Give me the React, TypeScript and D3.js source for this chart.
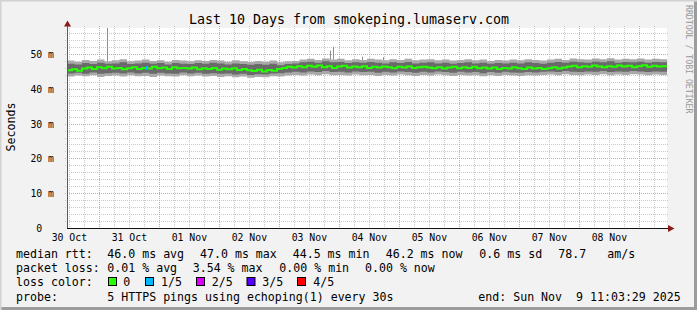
import React from "react";
import * as d3 from "d3";

const W = 697;
const H = 310;

const title = "Last 10 Days from smokeping.lumaserv.com";
const startTime = Date.UTC(2025, 9, 30, 11, 3, 29);
const endTime = Date.UTC(2025, 10, 9, 11, 3, 29);
const yMax = 57.47;
const yTicks = [0, 10, 20, 30, 40, 50];
const yTickLabels = ["0\u00a0\u00a0", "10 m", "20 m", "30 m", "40 m", "50 m"];

// median rtt (ms), one value every 2 hours from start
const medianMs = [
  45.3, 45.6, 45.2, 45.8, 46.1, 45.7, 46.2, 45.9, 46.3, 45.8, 46.0, 45.6,
  45.9, 46.2, 45.7, 46.0, 45.8, 46.3, 45.9, 46.1, 45.7, 46.2, 45.9, 46.0,
  45.8, 46.1, 45.6, 45.9, 45.7, 46.0, 45.5, 45.8, 45.6, 45.9, 45.4, 45.7,
  45.3, 45.1, 45.5, 45.0, 45.4, 45.2, 45.7, 46.0, 46.3, 46.1, 46.5, 46.2,
  46.6, 46.3, 46.7, 46.2, 46.5, 46.0, 46.4, 46.6, 46.1, 46.4, 46.2, 46.5,
  46.0, 46.3, 46.1, 46.4, 46.2, 45.9, 46.3, 46.1, 46.4, 46.0, 46.2, 46.3,
  46.1, 45.9, 46.2, 45.8, 46.1, 46.3, 45.9, 46.2, 46.0, 46.3, 45.9, 46.1,
  45.8, 46.1, 45.7, 46.0, 45.8, 46.2, 45.9, 45.7, 46.1, 45.8, 46.0, 45.7,
  45.9, 46.2, 45.8, 46.1, 46.4, 46.6, 46.2, 46.5, 46.3, 46.7, 46.4, 46.2,
  46.5, 46.3, 46.7, 46.4, 46.6, 46.2, 46.5, 46.8, 46.3, 46.6, 46.4, 46.5,
];

// smoke bands (ms), one value every 3 hours from start
const lightHi = [
  48.1, 47.8, 48.3, 48.0, 48.4, 47.9, 48.2, 48.5, 47.9, 48.1, 48.4, 48.0, 48.2, 47.8, 48.3, 48.1,
  47.9, 48.2, 48.0, 48.3, 48.1, 47.8, 48.2, 47.9, 47.7, 48.0, 47.8, 48.1, 47.6, 47.9, 48.0, 48.4,
  48.6, 48.3, 48.7, 48.4, 48.6, 48.2, 48.5, 48.3, 48.6, 48.4, 48.2, 48.5, 48.3, 48.6, 48.2, 48.4,
  48.5, 48.2, 48.4, 48.1, 48.3, 48.5, 48.2, 48.4, 48.0, 48.3, 48.1, 48.4, 48.2, 48.5, 48.3, 48.1,
  48.4, 48.6, 48.3, 48.7, 48.5, 48.4, 48.7, 48.5, 48.8, 48.4, 48.6, 48.5, 48.7, 48.4, 48.6, 48.5,
];
const darkHi = [
  47.2, 47.0, 47.4, 47.1, 47.5, 47.2, 47.3, 47.6, 47.1, 47.3, 47.5, 47.2, 47.4, 47.0, 47.4, 47.2,
  47.1, 47.4, 47.2, 47.5, 47.3, 47.0, 47.3, 47.1, 46.9, 47.1, 46.9, 47.2, 46.8, 47.1, 47.3, 47.6,
  47.8, 47.5, 47.9, 47.6, 47.7, 47.4, 47.6, 47.5, 47.7, 47.5, 47.3, 47.6, 47.4, 47.7, 47.3, 47.5,
  47.6, 47.3, 47.5, 47.2, 47.4, 47.6, 47.3, 47.5, 47.2, 47.4, 47.3, 47.5, 47.3, 47.6, 47.4, 47.2,
  47.5, 47.7, 47.5, 47.8, 47.6, 47.5, 47.8, 47.6, 47.9, 47.5, 47.7, 47.6, 47.8, 47.5, 47.7, 47.6,
];
const darkLo = [
  44.4, 44.6, 44.3, 44.7, 44.3, 44.5, 44.6, 44.4, 44.7, 44.4, 44.6, 44.3, 44.6, 44.4, 44.3, 44.7,
  44.4, 44.6, 44.3, 44.5, 44.3, 44.4, 44.1, 44.3, 44.0, 44.2, 44.1, 44.4, 44.5, 44.7, 44.9, 44.7,
  45.0, 44.8, 45.1, 44.8, 44.9, 44.7, 45.0, 44.8, 44.9, 44.6, 44.9, 44.7, 45.0, 44.8, 44.6, 44.9,
  44.7, 45.0, 44.8, 44.6, 44.9, 44.7, 44.8, 44.5, 44.8, 44.6, 44.9, 44.7, 44.6, 44.8, 44.7, 44.9,
  45.0, 44.8, 45.1, 44.9, 44.8, 45.0, 44.9, 45.1, 44.8, 45.0, 44.9, 45.1, 45.0, 44.8, 45.0, 44.9,
];
const lightLo = [
  43.5, 43.8, 43.6, 43.9, 43.4, 43.7, 43.8, 43.5, 43.9, 43.6, 43.7, 43.4, 43.8, 43.6, 43.5, 43.9,
  43.6, 43.8, 43.5, 43.7, 43.4, 43.6, 43.3, 43.5, 43.2, 43.4, 43.3, 43.6, 43.5, 43.8, 44.0, 43.8,
  44.1, 43.9, 44.2, 43.9, 44.0, 43.8, 44.1, 43.9, 44.0, 43.7, 44.0, 43.8, 44.1, 43.9, 43.7, 44.0,
  43.8, 44.1, 43.9, 43.7, 44.0, 43.8, 43.9, 43.6, 43.9, 43.7, 44.0, 43.8, 43.7, 43.9, 43.8, 44.0,
  44.1, 43.9, 44.2, 44.0, 43.9, 44.1, 44.0, 44.2, 43.9, 44.1, 44.0, 44.2, 44.1, 43.9, 44.1, 44.0,
];

// isolated max-ping spikes
const spikeTimes = [
  Date.UTC(2025, 9, 31, 3, 3),
  Date.UTC(2025, 10, 3, 20, 15),
  Date.UTC(2025, 10, 3, 21, 27),
  Date.UTC(2025, 10, 4, 9, 3),
  Date.UTC(2025, 10, 4, 17, 27),
];
const spikeValues = [57.5, 51.0, 52.1, 49.2, 49.1];

// packet loss events on the median line
const lossTimes = [Date.UTC(2025, 9, 31, 18, 39)];
const lossLevels = [1];

const lossLabels = ["0", "1/5", "2/5", "3/5", "4/5"];
const lossColors = ["#26ff00", "#00b8ff", "#dd00ff", "#5500ff", "#ff0000"];

const legendRtt = ["46.0 ms avg", "47.0 ms max", "44.5 ms min", "46.2 ms now", "0.6 ms sd", "78.7", "am/s"];
const legendLoss = ["0.01 % avg", "3.54 % max", "0.00 % min", "0.00 % now"];
const probeText = "5 HTTPS pings using echoping(1) every 30s";
const endText = "end: Sun Nov\u00a0\u00a09 11:03:29 2025";

const FONT = "'DejaVu Sans Mono', monospace";

export default function App() {
  const left = 67, right = 667, top = 28, bottom = 228;
  const x = d3.scaleUtc().domain([startTime, endTime]).range([left, right]);
  const y = d3.scaleLinear().domain([0, yMax]).range([bottom, top]);

  const H2 = 2 * 3600 * 1000;
  const H3 = 3 * 3600 * 1000;

  const withEnd = (arr: number[], step: number) => {
    const pts = arr.map((v, i) => ({ t: startTime + i * step, v }));
    pts.push({ t: endTime, v: arr[arr.length - 1] });
    return pts;
  };

  const bandPts = (hi: number[], lo: number[]) => {
    const pts = hi.map((h, i) => ({ t: startTime + i * H3, h, l: lo[i] }));
    pts.push({ t: endTime, h: hi[hi.length - 1], l: lo[lo.length - 1] });
    return pts;
  };

  const area = d3
    .area<{ t: number; h: number; l: number }>()
    .x((d) => x(d.t))
    .y0((d) => y(d.l))
    .y1((d) => y(d.h))
    .curve(d3.curveStepAfter);

  const medLine = d3
    .line<{ t: number; v: number }>()
    .x((d) => x(d.t))
    .y((d) => y(d.v))
    .curve(d3.curveStepAfter);

  const minorX = d3.utcHour.every(6)!.range(new Date(startTime), new Date(endTime));
  const majorX = d3.utcDay.range(new Date(startTime), new Date(endTime));
  const labelX = d3.utcDay
    .range(new Date(d3.utcDay.floor(new Date(startTime))), new Date(endTime))
    .map((d) => new Date(d.getTime() + 12 * 3600 * 1000))
    .filter((d) => d.getTime() >= startTime && d.getTime() <= endTime);
  const fmt = d3.utcFormat("%d %b");

  const minorY = d3.range(0, yMax, 2).filter((v) => v % 10 !== 0);

  const legendRowY = [258, 272, 286, 300.5];
  const rttX = [107.3, 200, 292.7, 385.7, 479.3, 558.3, 607.3];
  const lossX = [107.3, 192.7, 279.3, 365];
  const boxX = [108.5, 145.5, 196.5, 247, 297.5];
  const boxLabelX = [123.3, 161, 211.7, 262.3, 313.3];

  const medianPts = withEnd(medianMs, H2);
  const medianAt = (t: number) => medianMs[Math.min(medianMs.length - 1, Math.floor((t - startTime) / H2))];

  return (
    <svg
      width={W}
      height={H}
      style={{ position: "absolute", left: 0, top: 0, fontFamily: FONT }}
    >
      <rect x={0} y={0} width={W} height={H} fill="#f2f2f2" />
      <path d={`M0,${H} V0 H${W}`} stroke="#d2d2d2" strokeWidth={3} fill="none" />
      <path d={`M1.5,${H - 1.5} H${W - 1.5} V1.5`} stroke="#9c9c9c" strokeWidth={3} fill="none" />

      <text x={W / 2 + 0.5} y={24} textAnchor="middle" fontSize={13.3} fill="#000">
        {title}
      </text>

      <text transform={`translate(686,5) rotate(90)`} fontSize={8.2} fill="#999999">
        RRDTOOL / TOBI OETIKER
      </text>

      <text transform={`translate(15,127) rotate(-90)`} textAnchor="middle" fontSize={11.6} fill="#000">
        Seconds
      </text>

      <rect x={left} y={top} width={right - left} height={bottom - top} fill="#ffffff" />

      {/* minor grid */}
      <g stroke="#c8c8c8" strokeWidth={1} strokeDasharray="1,1">
        {minorX.map((d, i) => (
          <line key={"mx" + i} x1={Math.round(x(d)) + 0.5} x2={Math.round(x(d)) + 0.5} y1={top - 2} y2={bottom + 2} />
        ))}
        {minorY.map((v, i) => (
          <line key={"my" + i} x1={left - 2} x2={right + 2} y1={Math.round(y(v)) + 0.5} y2={Math.round(y(v)) + 0.5} />
        ))}
      </g>
      {/* major grid */}
      <g stroke="#f09a9a" strokeWidth={1} strokeDasharray="1,1">
        {majorX.map((d, i) => (
          <line key={"Mx" + i} x1={Math.round(x(d)) + 0.5} x2={Math.round(x(d)) + 0.5} y1={top - 2} y2={bottom + 2} />
        ))}
        {yTicks.filter((v) => v > 0).map((v, i) => (
          <line key={"My" + i} x1={left - 2} x2={right + 2} y1={Math.round(y(v)) + 0.5} y2={Math.round(y(v)) + 0.5} />
        ))}
      </g>

      {/* smoke */}
      <path d={area(bandPts(lightHi, lightLo))!} fill="#a9a9a9" />
      <path d={area(bandPts(darkHi, darkLo))!} fill="#6a6a6a" />
      {spikeTimes.map((t, i) => (
        <line
          key={"sp" + i}
          x1={Math.round(x(t)) + 0.5}
          x2={Math.round(x(t)) + 0.5}
          y1={y(lightHi[Math.floor((t - startTime) / H3)])}
          y2={y(Math.min(spikeValues[i], yMax))}
          stroke="#8e8e8e"
          strokeWidth={1}
        />
      ))}

      {/* median */}
      <path d={medLine(medianPts)!} fill="none" stroke={lossColors[0]} strokeWidth={2} />
      {lossTimes.map((t, i) => (
        <rect
          key={"lo" + i}
          x={Math.round(x(t))}
          y={y(medianAt(t)) - 2}
          width={2}
          height={4}
          fill={lossColors[lossLevels[i]]}
        />
      ))}

      {/* axes */}
      <line x1={left + 0.5} x2={left + 0.5} y1={bottom} y2={24} stroke="#5a5a5a" strokeWidth={1} />
      <line x1={left} x2={670} y1={bottom + 0.5} y2={bottom + 0.5} stroke="#111" strokeWidth={1} />
      <path d={`M${left + 0.5},20.5 L${left - 3},26.5 L${left + 4},26.5 Z`} fill="#8b1a1a" />
      <path d={`M674.5,${bottom + 0.5} L668,${bottom - 3} L668,${bottom + 4} Z`} fill="#8b1a1a" />

      <g opacity={0.99}>
        {yTicks.map((v, i) => (
          <text key={"yl" + i} x={54} y={Math.round(y(v)) + 4} textAnchor="end" fontSize={9.8} fill="#000">
            {yTickLabels[i]}
          </text>
        ))}
      </g>
      {labelX.map((d, i) => (
        <text key={"xl" + i} x={x(d)} y={241} textAnchor="middle" fontSize={9.8} fill="#000">
          {fmt(d)}
        </text>
      ))}

      {/* legend */}
      <g fontSize={11.6} fill="#000">
        <text x={16} y={legendRowY[0]}>median rtt:</text>
        {legendRtt.map((s, i) => (
          <text key={"r" + i} x={rttX[i]} y={legendRowY[0]}>{s}</text>
        ))}
        <text x={16} y={legendRowY[1]}>packet loss:</text>
        {legendLoss.map((s, i) => (
          <text key={"l" + i} x={lossX[i]} y={legendRowY[1]}>{s}</text>
        ))}
        <text x={16} y={legendRowY[2]}>loss color:</text>
        {lossLabels.map((s, i) => (
          <g key={"b" + i}>
            <rect x={boxX[i]} y={277.5} width={8} height={8} fill={lossColors[i]} stroke="#000" strokeWidth={1} />
            <text x={boxLabelX[i]} y={legendRowY[2]}>{s}</text>
          </g>
        ))}
        <text x={16} y={legendRowY[3]}>probe:</text>
        <text x={107.3} y={legendRowY[3]}>{probeText}</text>
        <text x={478.3} y={legendRowY[3]}>{endText}</text>
      </g>
    </svg>
  );
}
